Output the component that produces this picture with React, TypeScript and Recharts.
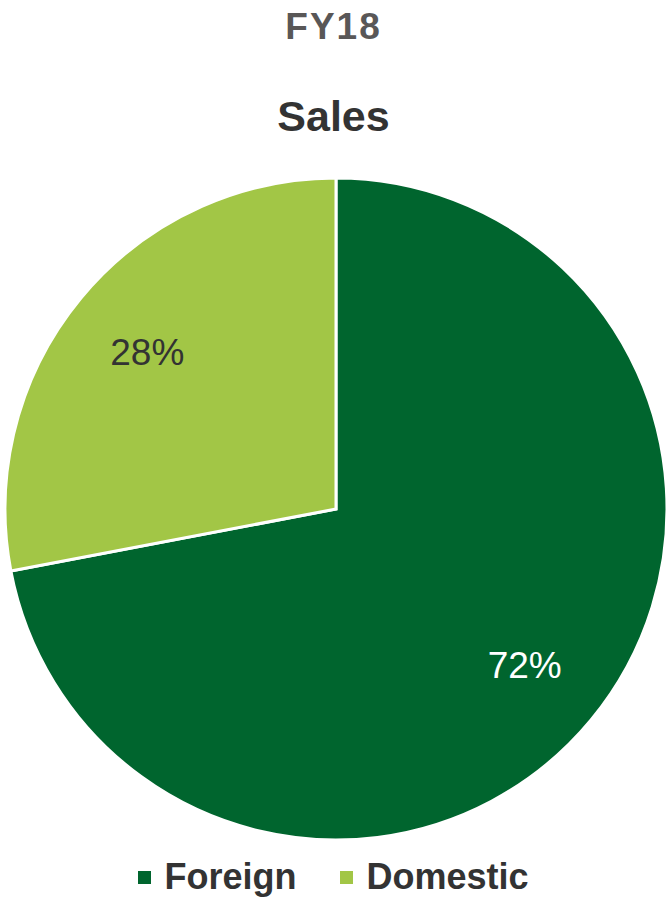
import { PieChart, Pie, Cell, Legend } from 'recharts';

const categories = ['Foreign', 'Domestic'];
const shares = [72, 28];
const COLORS = ['#00652E', '#A2C646'];
const LABEL_COLORS = ['#FFFFFF', '#333333'];

const data = categories.map((name, i) => ({ name, value: shares[i] }));

const RADIAN = Math.PI / 180;

const renderLabel = (props: any) => {
  const { cx, cy, midAngle, outerRadius, index, value } = props;
  const r = outerRadius * 0.74;
  const x = cx + r * Math.cos(-midAngle * RADIAN);
  const y = cy + r * Math.sin(-midAngle * RADIAN);
  return (
    <text
      x={x}
      y={y}
      fill={LABEL_COLORS[index]}
      textAnchor="middle"
      dominantBaseline="central"
      fontSize={37}
      fontFamily="Liberation Sans, Arial, sans-serif"
    >
      {`${value}%`}
    </text>
  );
};

const renderLegend = (props: any) => {
  const payload = [...(props.payload || [])].sort(
    (a: any, b: any) => categories.indexOf(a.value) - categories.indexOf(b.value)
  );
  return (
    <div style={{ display: 'flex', justifyContent: 'center', gap: 44, fontFamily: 'Liberation Sans, Arial, sans-serif' }}>
      {payload.map((entry: any, i: number) => (
        <div key={`legend-${i}`} style={{ display: 'flex', alignItems: 'center' }}>
          <span style={{ width: 13, height: 13, background: entry.color, display: 'inline-block', marginRight: 13 }} />
          <span style={{ fontSize: 36, fontWeight: 'bold', color: '#333333' }}>{entry.value}</span>
        </div>
      ))}
    </div>
  );
};

export default function App() {
  return (
    <div style={{ position: 'absolute', left: 0, top: 0, width: 667, height: 901, background: '#fff' }}>
      <div
        style={{
          position: 'absolute',
          top: 6,
          width: 667,
          textAlign: 'center',
          fontFamily: 'Liberation Sans, Arial, sans-serif',
          fontWeight: 'bold',
          fontSize: 37,
          letterSpacing: 2,
          color: '#595757',
        }}
      >
        FY18
      </div>
      <div
        style={{
          position: 'absolute',
          top: 92,
          width: 667,
          textAlign: 'center',
          fontFamily: 'Liberation Sans, Arial, sans-serif',
          fontWeight: 'bold',
          fontSize: 43,
          color: '#333333',
        }}
      >
        Sales
      </div>
      <PieChart width={667} height={901} margin={{ top: 0, right: 0, bottom: 0, left: 0 }}>
        <Pie
          data={data}
          dataKey="value"
          nameKey="name"
          cx={336}
          cy={509}
          outerRadius={331}
          startAngle={90}
          endAngle={-270}
          stroke="#FFFFFF"
          strokeWidth={3}
          label={renderLabel}
          labelLine={false}
          isAnimationActive={false}
        >
          {data.map((_, index) => (
            <Cell key={`cell-${index}`} fill={COLORS[index % COLORS.length]} />
          ))}
        </Pie>
        <Legend
          content={renderLegend}
          wrapperStyle={{ position: 'absolute', top: 856, left: 0, width: 667 }}
        />
      </PieChart>
    </div>
  );
}
